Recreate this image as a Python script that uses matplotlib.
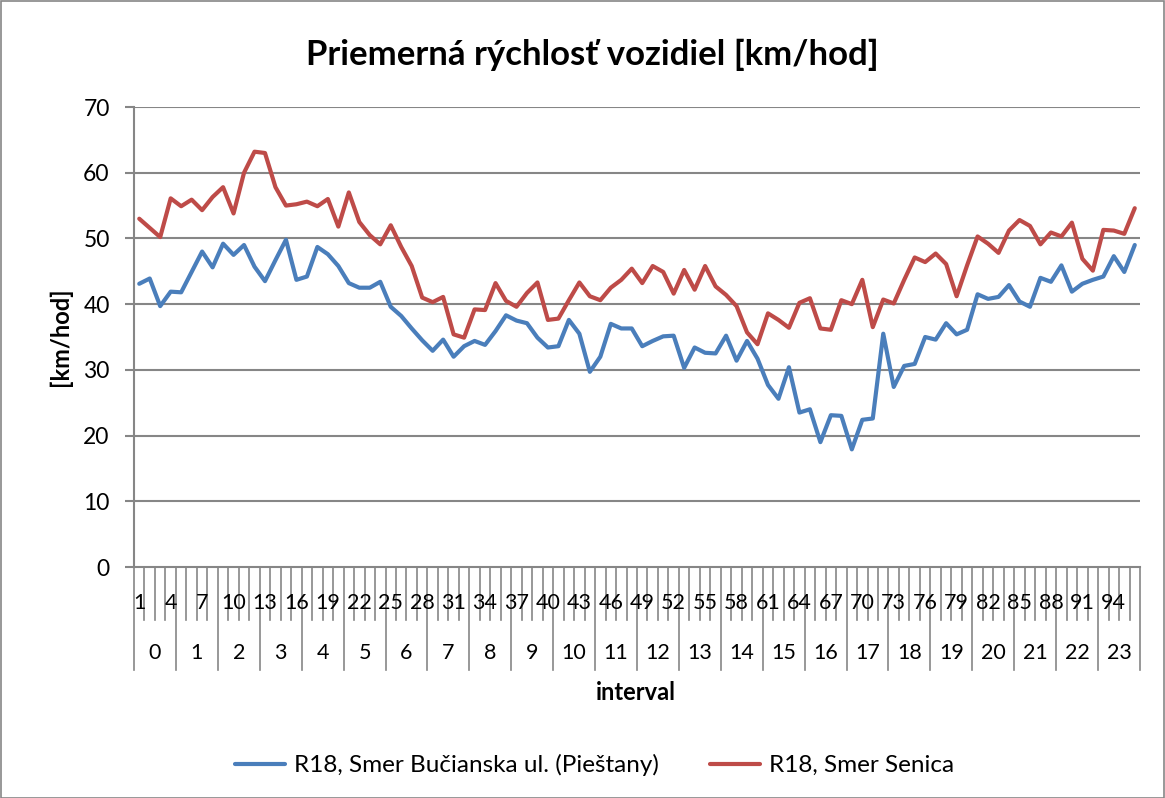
import matplotlib
matplotlib.use("Agg")
import matplotlib.pyplot as plt
import matplotlib.transforms as mtransforms
from matplotlib.patches import Rectangle

plt.rcParams['font.family'] = ['Lato', 'DejaVu Sans']

intervals = list(range(1, 97))
hours = list(range(24))

bucianska = [43.1, 43.9, 39.7, 41.9, 41.8, 44.9, 48.0, 45.6, 49.2, 47.5,
             49.0, 45.7, 43.5, 46.7, 49.8, 43.7, 44.2, 48.7, 47.6, 45.8,
             43.2, 42.5, 42.5, 43.4, 39.6, 38.2, 36.3, 34.5, 32.9, 34.6,
             32.0, 33.6, 34.4, 33.8, 35.9, 38.3, 37.5, 37.1, 34.9, 33.4,
             33.6, 37.6, 35.5, 29.7, 32.0, 37.0, 36.3, 36.3, 33.6, 34.4,
             35.1, 35.2, 30.3, 33.4, 32.6, 32.5, 35.2, 31.4, 34.4, 31.7,
             27.7, 25.6, 30.4, 23.5, 24.0, 19.0, 23.1, 23.0, 17.9, 22.4,
             22.6, 35.5, 27.4, 30.6, 30.9, 35.0, 34.6, 37.1, 35.4, 36.1,
             41.5, 40.8, 41.1, 42.9, 40.4, 39.6, 44.0, 43.4, 45.9, 41.9,
             43.1, 43.7, 44.2, 47.3, 44.9, 49.0]

senica = [53.0, 51.6, 50.2, 56.1, 54.9, 55.9, 54.3, 56.3, 57.8, 53.8,
          60.0, 63.2, 63.0, 57.8, 55.0, 55.2, 55.6, 54.9, 56.0, 51.8,
          57.0, 52.5, 50.5, 49.1, 52.0, 48.7, 45.8, 41.0, 40.3, 41.1,
          35.4, 34.9, 39.2, 39.1, 43.2, 40.5, 39.6, 41.7, 43.3, 37.6,
          37.8, 40.6, 43.3, 41.2, 40.6, 42.5, 43.7, 45.4, 43.2, 45.8,
          44.9, 41.6, 45.2, 42.2, 45.8, 42.7, 41.4, 39.7, 35.7, 33.9,
          38.6, 37.6, 36.4, 40.2, 40.9, 36.3, 36.1, 40.6, 40.0, 43.7,
          36.5, 40.7, 40.1, 43.7, 47.1, 46.4, 47.7, 46.1, 41.2, 45.9,
          50.3, 49.2, 47.8, 51.2, 52.8, 51.9, 49.1, 50.9, 50.3, 52.4,
          46.9, 45.1, 51.3, 51.2, 50.7, 54.6]

series_names = ["R18, Smer Bučianska ul. (Pieštany)", "R18, Smer Senica"]
colors = ["#4A7EBB", "#BE4B48"]
yticks = [0, 10, 20, 30, 40, 50, 60, 70]

W, H = 1165, 798
fig = plt.figure(figsize=(W / 100, H / 100), dpi=100)
ax = fig.add_axes([134 / W, 1 - 567 / H, (1140 - 134) / W, (567 - 107) / H])

grid_c = "#868686"
for yv in yticks[1:]:
    ax.axhline(yv, color=grid_c, lw=1.5, zorder=1)

l1, = ax.plot(intervals, bucianska, color=colors[0], lw=3.0, zorder=3,
              solid_joinstyle='round', solid_capstyle='round')
l2, = ax.plot(intervals, senica, color=colors[1], lw=3.0, zorder=3,
              solid_joinstyle='round', solid_capstyle='round')

ax.set_xlim(0.5, len(intervals) + 0.5)
ax.set_ylim(0, 70)
ax.set_yticks(yticks)
ax.set_yticklabels([str(v) for v in yticks], fontsize=16.5)
ax.tick_params(axis='y', length=6.5, width=1.5, color=grid_c, pad=11)
ax.set_xticks([])
for s in ['top', 'right']:
    ax.spines[s].set_visible(False)
for s in ['left', 'bottom']:
    ax.spines[s].set_color(grid_c)
    ax.spines[s].set_linewidth(1.5)

trans = mtransforms.blended_transform_factory(ax.transData, ax.transAxes)
# category boundary ticks (multi-level category axis)
for b in range(len(intervals) + 1):
    xb = b + 0.5
    if b % 4 == 0:
        ax.plot([xb, xb], [0, -0.224], transform=trans, color=grid_c, lw=1.2, clip_on=False)
    else:
        ax.plot([xb, xb], [0, -0.115], transform=trans, color=grid_c, lw=1.2, clip_on=False)

for i in intervals[::3]:
    ax.text(i, -0.078, str(i), transform=trans, ha='center', va='center', fontsize=15.5)
for h in hours:
    ax.text(4 * h + 2.5, -0.187, str(h), transform=trans, ha='center', va='center', fontsize=15.5)

fig.text(636 / W, 1 - 692 / H, "interval", ha='center', va='center', fontsize=17, fontweight='bold')
fig.text(60 / W, 1 - 337 / H, "[km/hod]", ha='center', va='center', fontsize=17,
         fontweight='bold', rotation=90)
fig.text(592 / W, 1 - 55 / H, "Priemerná rýchlosť vozidiel [km/hod]", ha='center', va='center',
         fontsize=25, fontweight='bold')

# legend
leg = fig.legend([l1, l2], series_names, loc='center', bbox_to_anchor=(595 / W, 1 - 765 / H),
                 ncol=2, frameon=False, fontsize=17.5, handlelength=2.06, columnspacing=2.1,
                 handletextpad=0.37, borderpad=0, borderaxespad=0)

fig.patches.append(Rectangle((0.5 / W, 0.5 / H), 1 - 2 / W, 1 - 1.5 / H, transform=fig.transFigure,
                             fill=False, edgecolor="#868686", lw=1.2))

fig.savefig("out.png", dpi=100)
